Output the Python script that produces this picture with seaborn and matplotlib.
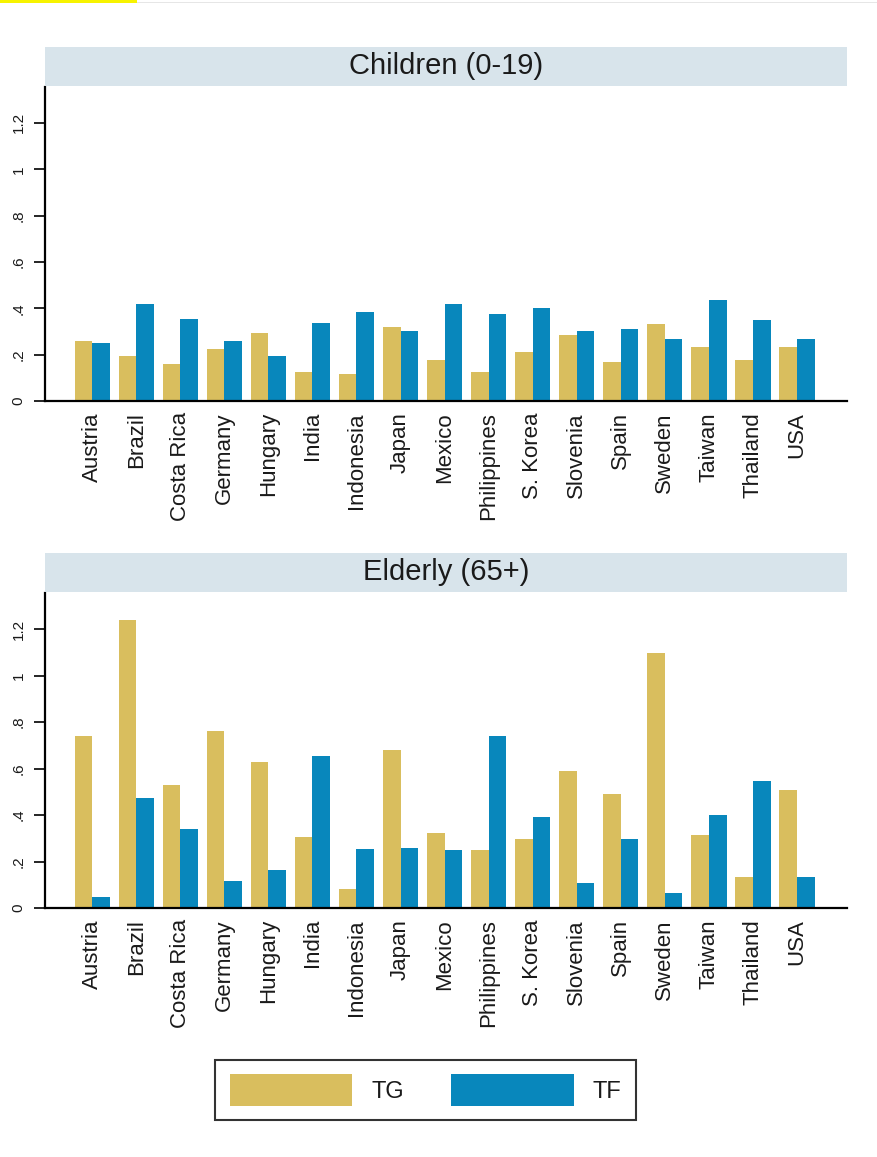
import matplotlib
matplotlib.use("Agg")
import matplotlib.pyplot as plt
from matplotlib.patches import Rectangle, Patch
import seaborn as sns
import pandas as pd

countries = ["Austria", "Brazil", "Costa Rica", "Germany", "Hungary", "India",
             "Indonesia", "Japan", "Mexico", "Philippines", "S. Korea", "Slovenia",
             "Spain", "Sweden", "Taiwan", "Thailand", "USA"]

children_tg = [0.259, 0.194, 0.160, 0.223, 0.295, 0.124, 0.115, 0.321, 0.178,
               0.124, 0.213, 0.285, 0.168, 0.331, 0.232, 0.177, 0.232]
children_tf = [0.250, 0.419, 0.355, 0.259, 0.196, 0.338, 0.384, 0.303, 0.419,
               0.374, 0.401, 0.303, 0.311, 0.266, 0.436, 0.348, 0.266]

elderly_tg = [0.742, 1.240, 0.528, 0.760, 0.626, 0.305, 0.081, 0.679, 0.321,
              0.250, 0.296, 0.590, 0.492, 1.099, 0.313, 0.134, 0.509]
elderly_tf = [0.046, 0.475, 0.341, 0.117, 0.163, 0.653, 0.252, 0.260, 0.249,
              0.742, 0.393, 0.108, 0.296, 0.063, 0.401, 0.545, 0.134]

panel_titles = ["Children (0-19)", "Elderly (65+)"]
series_names = ["TG", "TF"]
y_ticks = [0, 0.2, 0.4, 0.6, 0.8, 1.0, 1.2]
y_tick_labels = ["0", ".2", ".4", ".6", ".8", "1", "1.2"]

colors = {"TG": "#D9BE5E", "TF": "#0887BC"}
strip_color = "#D8E4EB"

sns.set_theme(style="white")
plt.rcParams["font.family"] = ["Liberation Sans", "DejaVu Sans"]

W, H = 878, 1157
fig = plt.figure(figsize=(W / 100, H / 100), dpi=100)

def long_frame(tg, tf):
    rows = []
    for c, a, b in zip(countries, tg, tf):
        rows.append({"country": c, "series": "TG", "value": a})
        rows.append({"country": c, "series": "TF", "value": b})
    return pd.DataFrame(rows)

panels = [
    (panel_titles[0], long_frame(children_tg, children_tf), 87, 401),
    (panel_titles[1], long_frame(elderly_tg, elderly_tf), 593, 908),
]

strip_h = 39
for title, df, top_px, bot_px in panels:
    ax = fig.add_axes([45 / W, 1 - bot_px / H, 802 / W, (bot_px - top_px) / H])
    sns.barplot(data=df, x="country", y="value", hue="series",
                hue_order=series_names, palette=colors, order=countries,
                width=0.8, saturation=1, edgecolor="none", linewidth=0,
                ax=ax, legend=False)
    ax.set_ylim(0, 1.355)
    ax.set_xlim(-1.07, len(countries) - 1 + 1.135)
    ax.set_yticks(y_ticks)
    ax.set_yticklabels(y_tick_labels, rotation=90, va="center", fontsize=11)
    ax.tick_params(axis="y", direction="out", length=8, width=1.2,
                   color="black", pad=6, left=True)
    ax.tick_params(axis="x", length=0, pad=8)
    ax.set_xticks(range(len(countries)))
    ax.set_xticklabels(countries, rotation=90, fontsize=16, color="#1a1a1a")
    for lab in ax.get_yticklabels():
        lab.set_color("#1a1a1a")
    ax.set_xlabel("")
    ax.set_ylabel("")
    for s in ["top", "right"]:
        ax.spines[s].set_visible(False)
    for s in ["left", "bottom"]:
        ax.spines[s].set_color("black")
        ax.spines[s].set_linewidth(1.6)
    ax.grid(False)

    # header strip above each panel
    strip_bottom = 1 - (top_px - 1) / H
    fig.patches.append(Rectangle((45 / W, strip_bottom), 802 / W, strip_h / H,
                                 transform=fig.transFigure, facecolor=strip_color,
                                 edgecolor="none", zorder=0))
    fig.text((45 + 401) / W, strip_bottom + strip_h / 2 / H, title,
             ha="center", va="center", fontsize=21, color="#1a1a1a")

# shared legend
handles = [Patch(facecolor=colors[n], edgecolor="none") for n in series_names]
leg = fig.legend(handles, series_names, loc="center",
                 bbox_to_anchor=(425.5 / W, 1 - 1090 / H), ncol=2,
                 fontsize=17, handlelength=5.2, handleheight=1.65,
                 handletextpad=0.8, columnspacing=2.0, borderpad=0.62,
                 frameon=True, fancybox=False, borderaxespad=0)
leg.get_frame().set_edgecolor("black")
leg.get_frame().set_linewidth(1.5)
for t in leg.get_texts():
    t.set_color("#1a1a1a")

# thin highlight bar along the top edge
fig.patches.append(Rectangle((0, 1 - 3 / H), 137 / W, 3 / H, transform=fig.transFigure,
                             facecolor="#F7F300", edgecolor="none"))
fig.patches.append(Rectangle((137 / W, 1 - 3 / H), 1 - 137 / W, 1.2 / H,
                             transform=fig.transFigure, facecolor="#E6E6E6",
                             edgecolor="none"))

fig.savefig("out.png", dpi=100)
